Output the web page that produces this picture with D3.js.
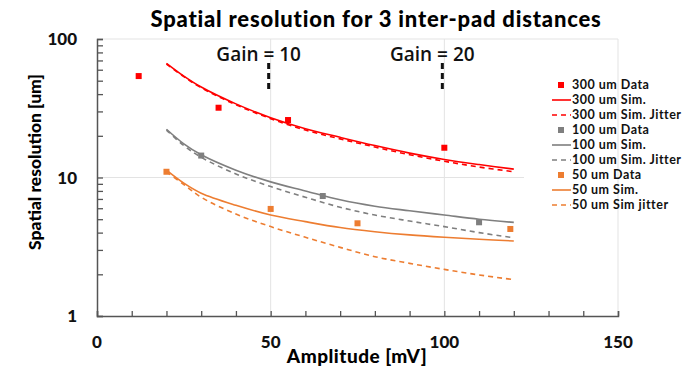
<!DOCTYPE html>
<html>
<head>
<meta charset="utf-8">
<script src="https://cdn.jsdelivr.net/npm/d3@7"></script>
<style>
  body { margin: 0; background: #fff; }
  text { font-family: Lato, "Open Sans", sans-serif; }
  .tick-lbl { font-weight: 900; font-size: 17px; fill: #111; }
  .lgd { font-weight: bold; font-size: 12.5px; fill: #111; letter-spacing: 0.5px; }
</style>
</head>
<body>
<div id="chart"></div>
<script>
// amplitude points for the simulated curves
let simX = [20, 25, 30, 40, 50, 60, 70, 80, 90, 100, 110, 120];

let sim300 = [66.8, 54, 45, 34, 27, 22.5, 19.5, 17, 15, 13.5, 12.4, 11.5];
let jit300 = [66, 53.5, 44.5, 33.5, 26.6, 22, 19, 16.6, 14.6, 13.1, 11.9, 11.0];
let sim100 = [22.3, 17.5, 14.6, 11.3, 9.3, 8.0, 6.9, 6.2, 5.75, 5.36, 5.0, 4.74];
let jit100 = [22.0, 17.0, 14.0, 10.6, 8.6, 7.2, 6.1, 5.36, 4.85, 4.42, 4.0, 3.67];
let sim50 = [11.3, 9.1, 7.7, 6.3, 5.36, 4.8, 4.35, 4.06, 3.85, 3.7, 3.58, 3.48];
let jit50 = [11.0, 8.9, 7.2, 5.45, 4.42, 3.7, 3.13, 2.68, 2.4, 2.17, 1.98, 1.83];

// measured points
let data300X = [12, 35, 55, 100];
let data300Y = [54, 31.9, 26, 16.4];
let data100X = [30, 65, 110];
let data100Y = [14.4, 7.35, 4.75];
let data50X = [20, 50, 75, 119];
let data50Y = [11, 5.93, 4.67, 4.25];

let xTicks = [0, 50, 100, 150];
let yTicks = [1, 10, 100];

let gains = [{x: 50, label: "Gain = 10"}, {x: 100, label: "Gain = 20"}];

let legendItems = [
  {label: "300 um Data", type: "sq", color: "#ff0000"},
  {label: "300 um Sim.", type: "line", color: "#ff0000"},
  {label: "300 um Sim. Jitter", type: "dash", color: "#ff0000"},
  {label: "100 um Data", type: "sq", color: "#7f7f7f"},
  {label: "100 um Sim.", type: "line", color: "#7f7f7f"},
  {label: "100 um Sim. Jitter", type: "dash", color: "#7f7f7f"},
  {label: "50 um Data", type: "sq", color: "#ed7d31"},
  {label: "50 um  Sim.", type: "line", color: "#ed7d31"},
  {label: "50 um  Sim  jitter", type: "dash", color: "#ed7d31"}
];

const W = 690, H = 368;
const svg = d3.select('#chart').append('svg')
    .attr('width', W)
    .attr('height', H);

const x = d3.scaleLinear().domain([0, 150]).range([97, 618]);
const y = d3.scaleLog().domain([1, 100]).range([316, 39]);

// grid
let grid = svg.append('g').attr('stroke', '#e3e3e3').attr('stroke-width', 1);
[50, 100].forEach(v => {
  grid.append('line').attr('x1', x(v)).attr('x2', x(v)).attr('y1', y(100)).attr('y2', y(1));
});
grid.append('line').attr('x1', x(0)).attr('x2', x(150)).attr('y1', y(10)).attr('y2', y(10));
grid.append('line').attr('x1', x(0)).attr('x2', x(150)).attr('y1', y(100)).attr('y2', y(100));

// curves
let line = d3.line()
    .x((d, i) => x(simX[i]))
    .y(d => y(d))
    .curve(d3.curveCatmullRom.alpha(0.5));

let curves = [
  {vals: sim300, color: "#ff0000", dash: null},
  {vals: jit300, color: "#ff0000", dash: "5,4"},
  {vals: sim100, color: "#7f7f7f", dash: null},
  {vals: jit100, color: "#7f7f7f", dash: "5,4"},
  {vals: sim50, color: "#ed7d31", dash: null},
  {vals: jit50, color: "#ed7d31", dash: "5,4"}
];

svg.selectAll('path.curve')
    .data(curves)
    .enter()
    .append('path')
    .attr('class', 'curve')
    .attr('d', d => line(d.vals))
    .attr('fill', 'none')
    .attr('stroke', d => d.color)
    .attr('stroke-width', 1.6)
    .attr('stroke-dasharray', d => d.dash);

// data squares
let sets = [
  {xs: data300X, ys: data300Y, color: "#ff0000"},
  {xs: data100X, ys: data100Y, color: "#7f7f7f"},
  {xs: data50X, ys: data50Y, color: "#ed7d31"}
];
sets.forEach(s => {
  svg.selectAll(null)
      .data(s.xs)
      .enter()
      .append('rect')
      .attr('x', (d) => x(d) - 3)
      .attr('y', (d, i) => y(s.ys[i]) - 3)
      .attr('width', 6)
      .attr('height', 6)
      .attr('fill', s.color);
});

// legend box (covers the gridline behind it)
svg.append('rect')
    .attr('x', 524).attr('y', 74)
    .attr('width', 166).attr('height', 140)
    .attr('fill', '#fff');

// right border of plot runs through the legend
svg.append('line')
    .attr('x1', x(150)).attr('x2', x(150))
    .attr('y1', y(100)).attr('y2', y(1))
    .attr('stroke', '#e3e3e3');

let lg = svg.append('g');
legendItems.forEach((d, i) => {
  let ly = 85 + i * 15;
  if (d.type == "sq") {
    lg.append('rect').attr('x', 558).attr('y', ly - 3).attr('width', 6).attr('height', 6).attr('fill', d.color);
  } else {
    lg.append('line')
        .attr('x1', 552).attr('x2', 571)
        .attr('y1', ly).attr('y2', ly)
        .attr('stroke', d.color)
        .attr('stroke-width', 1.6)
        .attr('stroke-dasharray', d.type == "dash" ? "5,4" : null);
  }
  lg.append('text')
      .attr('class', 'lgd')
      .attr('x', 572)
      .attr('y', ly)
      .attr('dy', '0.35em')
      .text(d.label);
});

// axes
let axisColor = '#555';
let yAxis = d3.axisLeft(y)
    .tickValues([1,2,3,4,5,6,7,8,9,10,20,30,40,50,60,70,80,90,100])
    .tickSize(-6)
    .tickFormat('');
svg.append('g')
    .attr('transform', 'translate(' + x(0) + ',0)')
    .call(yAxis)
    .call(g => g.selectAll('line').attr('stroke', axisColor).attr('stroke-width', 1.3))
    .call(g => g.select('.domain').attr('stroke', axisColor).attr('stroke-width', 1.5));

let xAxis = d3.axisBottom(x)
    .tickValues(d3.range(0, 151, 10))
    .tickSize(-5)
    .tickFormat('');
svg.append('g')
    .attr('transform', 'translate(0,' + y(1) + ')')
    .call(xAxis)
    .call(g => g.selectAll('line').attr('stroke', axisColor).attr('stroke-width', 1.3))
    .call(g => g.select('.domain').attr('stroke', axisColor).attr('stroke-width', 1.5));

// tick labels
svg.selectAll('text.ylab')
    .data(yTicks)
    .enter()
    .append('text')
    .attr('class', 'tick-lbl')
    .attr('x', 77)
    .attr('y', d => y(d))
    .attr('dy', '0.36em')
    .attr('text-anchor', 'end')
    .text(d => d);

svg.selectAll('text.xlab')
    .data(xTicks)
    .enter()
    .append('text')
    .attr('class', 'tick-lbl')
    .attr('x', d => x(d))
    .attr('y', 348)
    .attr('text-anchor', 'middle')
    .text(d => d);

// titles
svg.append('text')
    .text('Spatial resolution for 3 inter-pad distances')
    .attr('x', 376)
    .attr('y', 27)
    .attr('text-anchor', 'middle')
    .style('font-weight', 900)
    .style('font-size', '22px')
    .style('letter-spacing', '0.8px');

svg.append('text')
    .text('Amplitude [mV]')
    .attr('x', 357)
    .attr('y', 363)
    .attr('text-anchor', 'middle')
    .style('font-weight', 900)
    .style('font-size', '19px')
    .style('letter-spacing', '0.5px');

svg.append('text')
    .text('Spatial resolution [um]')
    .attr('transform', 'translate(41,162) rotate(-90)')
    .attr('text-anchor', 'middle')
    .style('font-weight', 900)
    .style('font-size', '17.5px');

// gain markers
gains.forEach(g => {
  svg.append('text')
      .text(g.label)
      .attr('x', x(g.x) - 12)
      .attr('y', 61)
      .attr('text-anchor', 'middle')
      .style('font-size', '19px')
      .style('font-weight', 600)
      .style('font-family', '"Open Sans", sans-serif')
      .attr('fill', '#111');
  svg.append('line')
      .attr('x1', x(g.x) - 2).attr('x2', x(g.x) - 2)
      .attr('y1', 63).attr('y2', 90)
      .attr('stroke', '#111')
      .attr('stroke-width', 3)
      .attr('stroke-dasharray', '6,4');
});
</script>
</body>
</html>
